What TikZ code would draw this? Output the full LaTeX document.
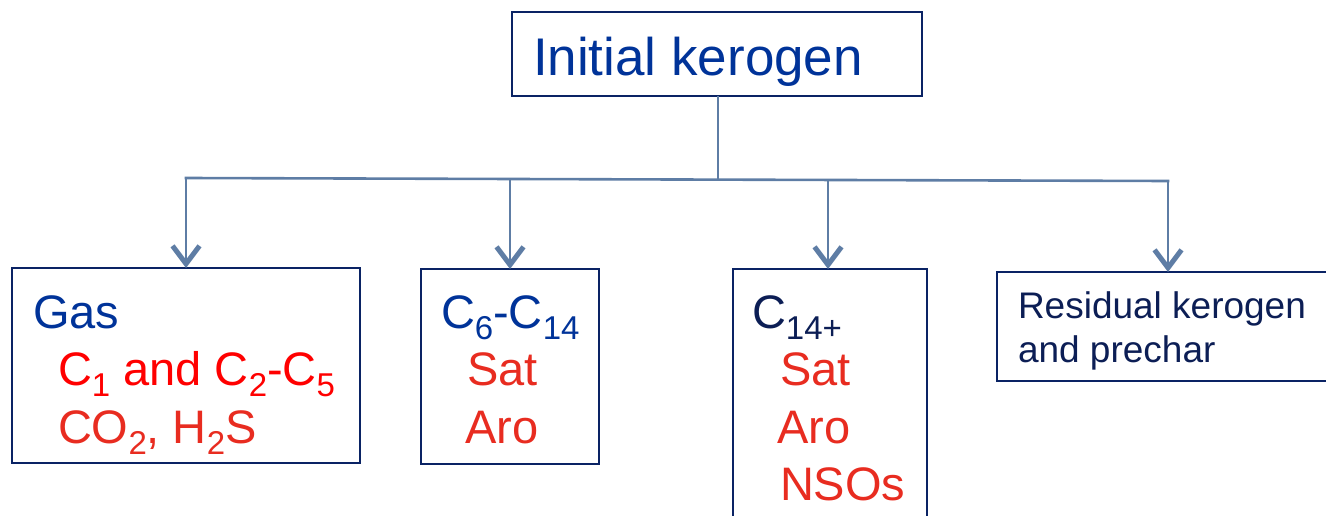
\documentclass[tikz,border=0pt]{standalone}
\usepackage{fontspec}
\setmainfont{Liberation Sans}
\usetikzlibrary{arrows.meta}
\definecolor{kblue}{RGB}{0,51,153}
\definecolor{knavy}{RGB}{10,35,100}
\definecolor{kdark}{RGB}{12,30,85}
\definecolor{kline}{RGB}{94,125,165}
\definecolor{kred}{RGB}{255,0,0}
\definecolor{korange}{RGB}{232,44,32}
% lowered subscript in a smaller size
\newcommand{\lsub}[1]{\raisebox{-11pt}{\fontsize{33pt}{33pt}\selectfont #1}}
\begin{document}
\begin{tikzpicture}[x=1pt,y=-1pt,
  box/.style={draw=knavy,line width=2.6pt,rectangle,inner sep=0pt,outer sep=0pt,anchor=north west},
  lbl/.style={inner sep=0pt,outer sep=0pt,anchor=base west,font=\fontsize{47pt}{47pt}\selectfont},
  conn/.style={draw=kline,line width=2.6pt},
  arr/.style={conn,-{Straight Barb[length=18pt,width=27pt,line width=5pt]}}]
\useasboundingbox (0,0) rectangle (1326,516);

% boxes
\node[box,minimum width=410pt,minimum height=84pt] (top) at (512,12) {};
\node[box,minimum width=348pt,minimum height=195pt] (gas) at (12,268) {};
\node[box,minimum width=178pt,minimum height=195pt] (light) at (421,269) {};
\node[box,minimum width=194pt,minimum height=260pt] (heavy) at (733,269) {};
\node[box,minimum width=342pt,minimum height=109pt] (resid) at (997,272) {};

% box texts
\node[lbl,text=kblue,font=\fontsize{53pt}{53pt}\selectfont] (ttop) at (533,76) {Initial kerogen};

\node[lbl,text=kblue] (tgas) at (33,328) {Gas};
\node[lbl,text=kred] (tgas1) at (58,385) {C\lsub{1} and C\lsub{2}-C\lsub{5}};
\node[lbl,text=korange] (tgas2) at (58,443) {CO\lsub{2}, H\lsub{2}S};

\node[lbl,text=kblue] (tlight) at (441,328) {C\lsub{6}-C\lsub{14}};
\node[lbl,text=korange] (tlight1) at (467,385) {Sat};
\node[lbl,text=korange] (tlight2) at (465,443) {Aro};

\node[lbl,text=kdark] (theavy) at (752,328) {C\lsub{14+}};
\node[lbl,text=korange] (theavy1) at (780,385) {Sat};
\node[lbl,text=korange] (theavy2) at (777,443) {Aro};
\node[lbl,text=korange] (theavy3) at (780,500) {NSOs};

\node[lbl,text=kdark,font=\fontsize{37pt}{37pt}\selectfont] (tres1) at (1018,318) {Residual kerogen};
\node[lbl,text=kdark,font=\fontsize{37pt}{37pt}\selectfont] (tres2) at (1018,362) {and prechar};

% branching connectors
\coordinate (hub) at (718,179.3);
\coordinate (b1) at (186,178);
\coordinate (b2) at (510,179);
\coordinate (b3) at (828,180);
\coordinate (b4) at (1168,181);

\draw[conn] (top.south -| hub) -- (hub);
\draw[conn,line cap=rect] (b1) -- (b4);
\draw[arr] (b1) -- (b1 |- gas.north);
\draw[arr] (b2) -- (b2 |- light.north);
\draw[arr] (b3) -- (b3 |- heavy.north);
\draw[arr] (b4) -- (b4 |- resid.north);
\end{tikzpicture}
\end{document}
